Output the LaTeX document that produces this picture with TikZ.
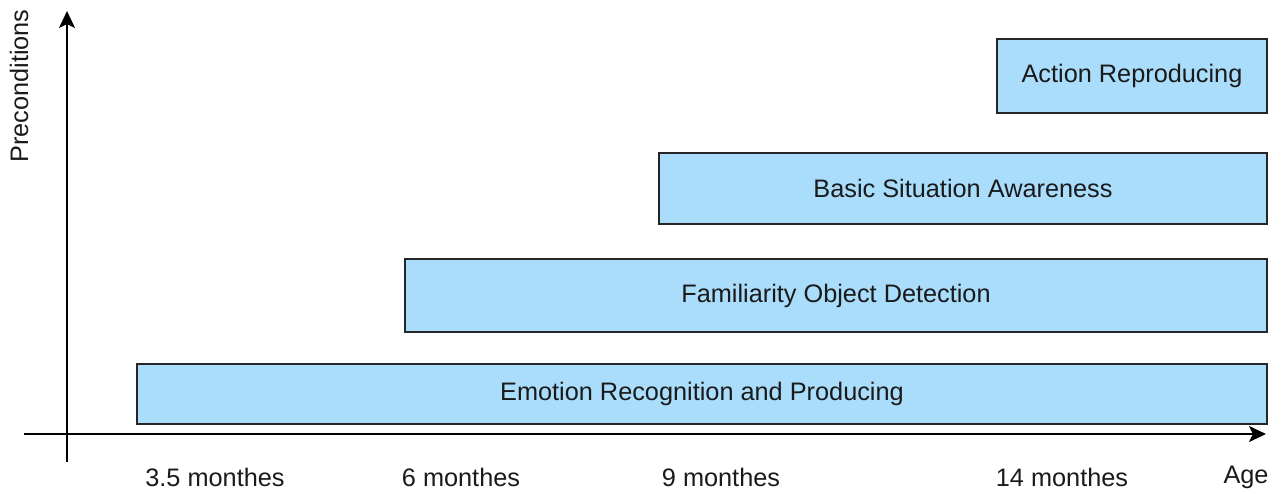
\documentclass[tikz,border=0pt]{standalone}
\usepackage{fontspec}
\setmainfont{Liberation Sans}
\usetikzlibrary{arrows.meta}
\definecolor{boxfill}{HTML}{A9DDFB}
\definecolor{boxdraw}{HTML}{262626}
\definecolor{txt}{HTML}{1A1A1A}
\begin{document}
\begin{tikzpicture}[x=1pt,y=-1pt,
  bar/.style={draw=boxdraw, fill=boxfill, line width=2pt, anchor=north west,
     inner sep=0pt, text=txt, font=\fontsize{25.3}{29}\selectfont},
  lbl/.style={text=txt, font=\fontsize{25.3}{29}\selectfont, inner sep=0pt},
  axis/.style={line width=2pt, -{Stealth[length=17pt,width=16pt,inset=4pt]}}]
\useasboundingbox (0,0) rectangle (1281,493);
\coordinate (xs) at (24,434);
\coordinate (xe) at (1266,434);
\coordinate (ys) at (67,462);
\coordinate (ye) at (67,11);
\draw[axis] (xs) -- (xe);
\draw[axis] (ys) -- (ye);
\node[bar, minimum width=270pt, minimum height=74pt] (act) at (996,38) {Action Reproducing};
\node[bar, minimum width=608pt, minimum height=71pt] (bsa) at (658,152) {Basic Situation Awareness};
\node[bar, minimum width=862pt, minimum height=73pt] (fod) at (404,258) {Familiarity Object Detection};
\node[bar, minimum width=1130pt, minimum height=60pt] (erp) at (136,363) {Emotion Recognition and Producing};
\node[lbl] (l1) at (215,477) {3.5 monthes};
\node[lbl] (l2) at (461,477) {6 monthes};
\node[lbl] (l3) at (721,477) {9 monthes};
\node[lbl] (l4) at (1062,477) {14 monthes};
\node[lbl] (l5) at (1246,477) {Age};
\node[lbl, rotate=90] (yl) at (19,86) {Preconditions};
\end{tikzpicture}
\end{document}
